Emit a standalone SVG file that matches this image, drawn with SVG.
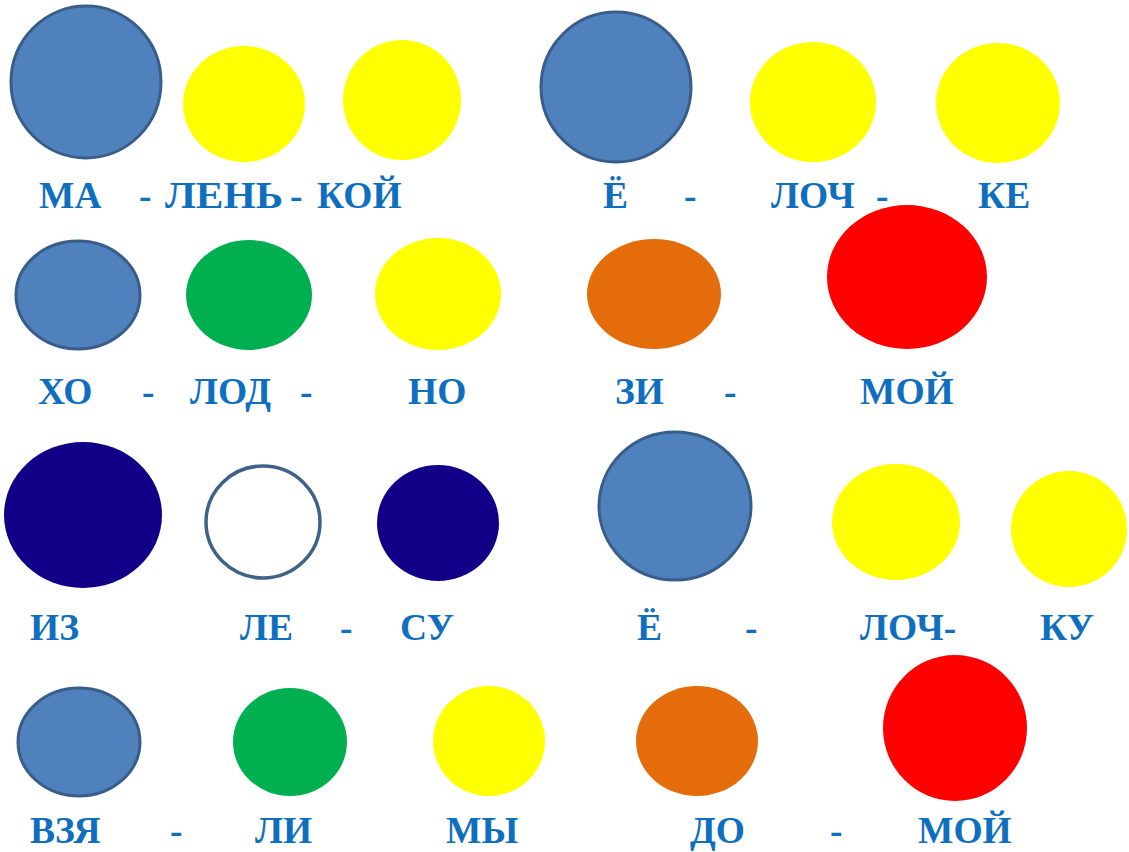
<svg xmlns="http://www.w3.org/2000/svg" width="1129" height="852" viewBox="0 0 1129 852">
<style>
.t{font-family:"Liberation Serif","Times New Roman",serif;font-weight:bold;font-size:37.5px;fill:#0f6fbf}
.bl{fill:#4f81bd;stroke:#385d8a;stroke-width:3}
.ye{fill:#ffff00}
.gr{fill:#00b050}
.or{fill:#e46c0a}
.rd{fill:#ff0000}
.nv{fill:#110087}
.wh{fill:#ffffff;stroke:#3f6189;stroke-width:3.5}
</style>
<rect width="1129" height="852" fill="#ffffff"/>
<g id="row1">
<ellipse class="bl" cx="86" cy="82" rx="75" ry="76"/>
<ellipse class="ye" cx="244" cy="104" rx="61" ry="58"/>
<ellipse class="ye" cx="402" cy="100" rx="59" ry="60"/>
<ellipse class="bl" cx="616" cy="87" rx="75" ry="75"/>
<ellipse class="ye" cx="813" cy="102" rx="63" ry="60"/>
<ellipse class="ye" cx="998" cy="103" rx="62" ry="60"/>
<text class="t" x="39" y="208">МА</text>
<text class="t" x="139" y="208">-</text>
<text class="t" x="165" y="208" textLength="118" lengthAdjust="spacingAndGlyphs">ЛЕНЬ</text>
<text class="t" x="290" y="208">-</text>
<text class="t" x="317" y="208">КОЙ</text>
<text class="t" x="603" y="208">Ё</text>
<text class="t" x="684" y="208">-</text>
<text class="t" x="771" y="208">ЛОЧ</text>
<text class="t" x="876" y="208">-</text>
<text class="t" x="978" y="208">КЕ</text>
</g>
<g id="row2">
<ellipse class="bl" cx="78" cy="295" rx="62" ry="54"/>
<ellipse class="gr" cx="249" cy="295" rx="63" ry="55"/>
<ellipse class="ye" cx="438" cy="294" rx="63" ry="56"/>
<ellipse class="or" cx="654" cy="294" rx="67" ry="55"/>
<ellipse class="rd" cx="907" cy="277" rx="80" ry="72"/>
<text class="t" x="38" y="404">ХО</text>
<text class="t" x="142" y="404">-</text>
<text class="t" x="190" y="404">ЛОД</text>
<text class="t" x="300" y="404">-</text>
<text class="t" x="408" y="404">НО</text>
<text class="t" x="615" y="404">ЗИ</text>
<text class="t" x="724" y="404">-</text>
<text class="t" x="860" y="404">МОЙ</text>
</g>
<g id="row3">
<ellipse class="nv" cx="83" cy="515" rx="79" ry="73"/>
<ellipse class="wh" cx="263" cy="522" rx="57" ry="56"/>
<ellipse class="nv" cx="438" cy="523" rx="61" ry="58"/>
<ellipse class="bl" cx="675" cy="506" rx="76" ry="74"/>
<ellipse class="ye" cx="896" cy="522" rx="64" ry="58"/>
<ellipse class="ye" cx="1069" cy="529" rx="58" ry="58"/>
<text class="t" x="30" y="640">ИЗ</text>
<text class="t" x="240" y="640">ЛЕ</text>
<text class="t" x="340" y="640">-</text>
<text class="t" x="400" y="640">СУ</text>
<text class="t" x="637" y="640">Ё</text>
<text class="t" x="745" y="640">-</text>
<text class="t" x="860" y="640">ЛОЧ-</text>
<text class="t" x="1040" y="640">КУ</text>
</g>
<g id="row4">
<ellipse class="bl" cx="79" cy="742" rx="61" ry="54"/>
<ellipse class="gr" cx="290" cy="742" rx="57" ry="54"/>
<ellipse class="ye" cx="489" cy="741" rx="56" ry="55"/>
<ellipse class="or" cx="697" cy="741" rx="61" ry="55"/>
<ellipse class="rd" cx="955" cy="728" rx="72" ry="73"/>
<text class="t" x="30" y="843">ВЗЯ</text>
<text class="t" x="170" y="843">-</text>
<text class="t" x="255" y="843">ЛИ</text>
<text class="t" x="446" y="843">МЫ</text>
<text class="t" x="690" y="843">ДО</text>
<text class="t" x="830" y="843">-</text>
<text class="t" x="918" y="843">МОЙ</text>
</g>
</svg>
